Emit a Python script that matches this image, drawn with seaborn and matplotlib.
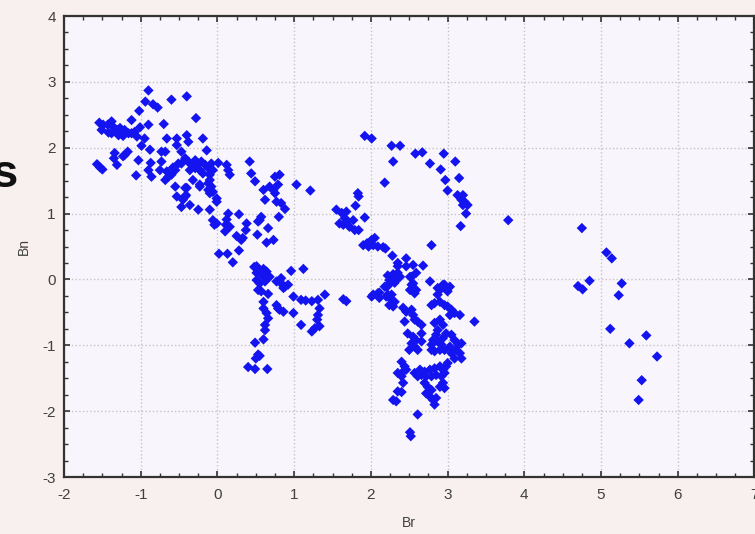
import numpy as np
import pandas as pd
import matplotlib
matplotlib.use("Agg")
import matplotlib.pyplot as plt
from matplotlib.ticker import MultipleLocator
import seaborn as sns

# --- data (Br, Bn) ---
# upper-left band
br_a = [-0.90, -0.94, -0.84, -0.78, -0.60, -0.40, -1.02, -0.28, -1.12, -0.70, -0.90, -1.01,
        -1.54, -1.49, -1.51, -1.43, -1.38, -1.36, -1.31, -1.42, -1.27, -1.25, -1.21, -1.16,
        -1.12, -1.08, -1.05, -1.29, -1.23, -1.38, -0.95, -0.66, -0.53, -0.40, -0.38, -0.19,
        -0.53, -0.99, -0.88, -0.73, -0.68, -0.14, -0.47, -1.21, -1.23, -1.17, -1.34, -1.35,
        -1.03, -1.31, -1.57, -1.53, -1.50, -0.87, -0.73, -0.90, -0.75, -0.86, -1.06, -0.66,
        -0.64, -0.68, -0.60, -0.55, -0.51, -0.58, -0.42, -0.38, -0.34, -0.29, -0.25, -0.21,
        -0.16, -0.12, -0.08, -0.06, -0.29, -0.23, -0.47, -0.36, -0.19, -0.10, 0.01, 0.12,
        0.14, 0.16, -0.32, -0.23, -0.10, -0.08, -0.06, -0.55, -0.42, -0.53, -0.42]
bn_a = [2.87, 2.70, 2.66, 2.61, 2.73, 2.78, 2.56, 2.45, 2.42, 2.36, 2.35, 2.31,
        2.38, 2.35, 2.27, 2.35, 2.40, 2.32, 2.27, 2.23, 2.30, 2.22, 2.27, 2.22,
        2.22, 2.24, 2.17, 2.19, 2.18, 2.22, 2.14, 2.14, 2.14, 2.19, 2.09, 2.14,
        2.04, 2.03, 1.97, 1.94, 1.94, 1.96, 1.94, 1.89, 1.87, 1.94, 1.92, 1.84,
        1.81, 1.74, 1.75, 1.70, 1.67, 1.77, 1.79, 1.66, 1.66, 1.56, 1.58, 1.64,
        1.56, 1.51, 1.59, 1.66, 1.76, 1.70, 1.84, 1.79, 1.74, 1.81, 1.76, 1.79,
        1.74, 1.69, 1.76, 1.66, 1.69, 1.66, 1.76, 1.66, 1.61, 1.59, 1.77, 1.74,
        1.66, 1.59, 1.51, 1.41, 1.51, 1.41, 1.33, 1.41, 1.39, 1.26, 1.26]

# descending middle band
br_b = [0.42, 0.44, 0.49, 0.75, 0.81, 0.68, 0.73, 0.75, 0.79, 0.60, 0.62, 1.03, 1.21,
        0.77, 0.83, 0.88, 0.80, 0.55, 0.57, 0.53, 0.66, 0.73, 0.52, 0.64, 0.28, 0.38,
        0.37, 0.33, 0.31, 0.25, 0.28, 0.20, 0.14, 0.12, 0.11, 0.16, 0.10, 0.02, 0.13,
        -0.06, -0.04, -0.01, -0.10, -0.01, -0.01, -0.25, -0.36, -0.45, -0.47, -0.41,
        -0.40, -0.23, -0.12, -0.12, -0.10, 0.51, 0.55, 0.64, 0.66, 0.96, 0.83]
bn_b = [1.79, 1.61, 1.49, 1.56, 1.59, 1.41, 1.36, 1.31, 1.44, 1.36, 1.21, 1.44, 1.35,
        1.18, 1.16, 1.07, 0.95, 0.90, 0.95, 0.88, 0.78, 0.60, 0.68, 0.56, 0.99, 0.85,
        0.75, 0.63, 0.60, 0.66, 0.44, 0.26, 1.00, 0.91, 0.83, 0.80, 0.73, 0.39, 0.39,
        0.90, 0.83, 0.85, 1.06, 1.18, 1.23, 1.06, 1.13, 1.21, 1.10, 1.28,
        1.39, 1.44, 1.46, 1.36, 1.31, 0.20, 0.10, 0.12, 0.04, 0.13, 0.02]

# lower-middle cluster around Br 0.5-1.4
br_c = [0.48, 0.51, 0.57, 0.60, 0.51, 0.55, 0.62, 0.68, 0.60, 1.12, 0.77, 0.83, 0.88,
        0.92, 0.86, 0.81, 0.57, 0.53, 0.66, 0.60, 0.60, 0.64, 0.66, 0.62, 0.62, 0.77,
        0.81, 0.86, 0.79, 0.99, 0.99, 1.09, 1.15, 1.23, 1.31, 1.40, 1.33, 1.31, 1.30,
        1.33, 1.23, 1.27, 1.09, 1.64, 1.68, 0.49, 0.60, 0.53, 0.50, 0.55, 0.40, 0.49, 0.65]
bn_c = [0.19, 0.10, 0.12, 0.04, -0.01, -0.06, -0.03, 0.04, 0.16, 0.16, -0.03, -0.06, -0.11,
        -0.08, -0.13, -0.02, -0.18, -0.16, -0.22, -0.34, -0.44, -0.51, -0.59, -0.69, -0.77, -0.39,
        -0.46, -0.49, -0.44, -0.51, -0.26, -0.31, -0.32, -0.33, -0.31, -0.23, -0.44, -0.54, -0.61,
        -0.71, -0.79, -0.74, -0.69, -0.30, -0.33, -0.96, -0.91, -1.14, -1.20, -1.16, -1.33, -1.36, -1.36]

# upper arc
br_d = [1.92, 2.01, 2.27, 2.38, 2.29, 2.58, 2.67, 2.95, 2.77, 3.10, 2.91, 2.97, 3.15,
        3.00, 3.13, 3.20, 3.18, 3.22, 3.26, 3.20, 3.24, 3.17, 2.18, 3.79]
bn_d = [2.18, 2.14, 2.03, 2.03, 1.79, 1.91, 1.93, 1.91, 1.76, 1.79, 1.67, 1.51, 1.54,
        1.35, 1.28, 1.28, 1.21, 1.18, 1.13, 1.13, 1.00, 0.81, 1.47, 0.90]

# short diagonal Br 1.5-2.2
br_e = [1.83, 1.84, 1.80, 1.55, 1.62, 1.68, 1.59, 1.66, 1.70, 1.77, 1.72, 1.79, 1.84,
        1.64, 1.92, 1.90, 1.95, 2.01, 2.05, 2.03, 2.09, 2.16, 1.97, 2.19, 2.79]
bn_e = [1.31, 1.26, 1.12, 1.06, 1.01, 1.03, 0.85, 0.93, 0.88, 0.90, 0.80, 0.75, 0.75,
        0.83, 0.94, 0.52, 0.55, 0.60, 0.63, 0.52, 0.50, 0.49, 0.50, 0.47, 0.52]

# dense lower cluster Br 2-3.4
br_f = [2.28, 2.46, 2.35, 2.35, 2.46, 2.55, 2.68, 2.59, 2.51, 2.77, 2.38, 2.29, 2.24,
        2.31, 2.22, 2.18, 2.96, 2.90, 3.00, 2.87, 2.53, 2.51, 2.57, 2.03, 2.11, 2.20,
        2.27, 2.01, 2.09, 2.11, 2.20, 2.22, 2.27, 2.24, 2.29, 2.31, 2.22, 2.29, 2.35,
        2.33, 2.27, 2.53, 2.55, 2.59, 2.42, 2.46, 2.53, 2.55, 2.57, 2.61, 2.66, 2.44,
        2.48, 2.55, 2.59, 2.66, 2.53, 2.57, 2.61, 2.50, 2.66, 2.87, 2.94, 3.03, 2.83,
        2.90, 2.96, 3.00, 3.05, 3.09, 3.03, 3.16, 2.79, 3.35, 2.83, 2.90, 2.94, 2.87,
        2.85, 2.81, 2.79, 2.87, 2.94, 2.98, 3.05, 3.09, 3.14, 3.18, 3.11, 3.05, 3.16,
        3.09, 3.18, 3.03, 2.96, 2.90, 2.83, 2.79, 2.92, 2.40, 2.44, 2.42, 2.46, 2.35,
        2.40, 2.42, 2.57, 2.64, 2.70, 2.77, 2.83, 2.90, 2.94, 2.98, 2.61, 2.66, 2.72,
        2.79, 2.85, 2.92, 2.96, 3.00, 2.70, 2.74, 2.79, 2.72, 2.77, 2.81, 2.83, 2.85,
        2.94, 2.96, 2.90, 2.35, 2.40, 2.29, 2.33, 2.61, 2.51, 2.52]
bn_f = [0.36, 0.32, 0.25, 0.20, 0.20, 0.22, 0.21, 0.10, 0.04, -0.03, 0.04, 0.04, -0.01,
        -0.05, -0.10, -0.11, -0.08, -0.16, -0.18, -0.23, -0.08, -0.16, -0.21, -0.23, -0.20, -0.26,
        -0.23, -0.26, -0.21, -0.28, -0.11, -0.23, -0.31, -0.39, -0.41, -0.34, 0.06, 0.08, 0.10,
        -0.01, -0.03, 0.04, -0.06, -0.16, -0.43, -0.49, -0.46, -0.54, -0.61, -0.64, -0.69, -0.64,
        -0.82, -0.87, -0.92, -0.82, -0.97, -1.02, -1.07, -1.07, -0.94, -0.13, -0.08, -0.11, -0.36,
        -0.34, -0.39, -0.41, -0.46, -0.51, -0.54, -0.54, -0.39, -0.64, -0.66, -0.61, -0.69, -0.77,
        -0.84, -0.92, -0.99, -0.94, -0.89, -0.82, -0.84, -0.92, -0.99, -0.97, -1.07, -1.12, -1.12,
        -1.20, -1.20, -1.02, -1.07, -1.07, -1.09, -1.07, -0.99, -1.25, -1.32, -1.40, -1.37, -1.42,
        -1.47, -1.57, -1.42, -1.37, -1.40, -1.37, -1.35, -1.32, -1.37, -1.32, -1.47, -1.45, -1.47,
        -1.47, -1.45, -1.47, -1.42, -1.27, -1.57, -1.63, -1.68, -1.73, -1.78, -1.83, -1.90, -1.80,
        -1.57, -1.65, -1.63, -1.70, -1.71, -1.83, -1.85, -2.05, -2.32, -2.38]

# sparse points on the right
br_g = [4.75, 5.07, 5.14, 4.85, 4.70, 4.76, 5.27, 5.23, 5.12, 5.59, 5.37, 5.73, 5.53, 5.49]
bn_g = [0.78, 0.41, 0.32, -0.02, -0.10, -0.15, -0.06, -0.24, -0.75, -0.85, -0.97, -1.17, -1.53, -1.83]

df = pd.DataFrame({
    "Br": br_a + br_b + br_c + br_d + br_e + br_f + br_g,
    "Bn": bn_a + bn_b + bn_c + bn_d + bn_e + bn_f + bn_g,
})

# --- plot ---
sns.set_style("ticks")
plt.rcParams["font.family"] = ["Liberation Sans", "DejaVu Sans"]
plt.rcParams["axes.unicode_minus"] = False

fig = plt.figure(figsize=(7.55, 5.34), dpi=100, facecolor="#f8f0ef")
ax = fig.add_axes([0.0848, 0.1067, 0.9145, 0.8633])
ax.set_facecolor("#f8f6fc")

sns.scatterplot(data=df, x="Br", y="Bn", marker="D", s=28, color="#1414f0",
                edgecolor="none", ax=ax)

ax.set_xlim(-2, 7)
ax.set_ylim(-3, 4)
ax.xaxis.set_major_locator(MultipleLocator(1))
ax.xaxis.set_minor_locator(MultipleLocator(0.25))
ax.yaxis.set_major_locator(MultipleLocator(1))
ax.yaxis.set_minor_locator(MultipleLocator(0.25))
ax.grid(True, which="major", linestyle=":", color="#c4c4c4", linewidth=1.0)
ax.set_axisbelow(True)

ax.tick_params(which="both", direction="in", top=True, right=True,
               color="#333333", labelcolor="#404040", labelsize=11)
ax.tick_params(which="major", length=4, width=1.2)
ax.tick_params(which="minor", length=3, width=1.0)
ax.tick_params(axis="x", pad=8)
ax.tick_params(axis="y", pad=6)
for side in ax.spines.values():
    side.set_color("#333333")
    side.set_linewidth(1.6)

ax.set_xlabel("Br", fontsize=10, color="#404040", labelpad=10)
ax.set_ylabel("Bn", fontsize=10, color="#404040", labelpad=8)

# cropped slide text at the left edge
fig.text(-0.012, 0.672, "s", fontsize=34, fontweight="bold", color="#111111",
         ha="left", va="center")

fig.savefig("out.png", dpi=100, facecolor=fig.get_facecolor())
